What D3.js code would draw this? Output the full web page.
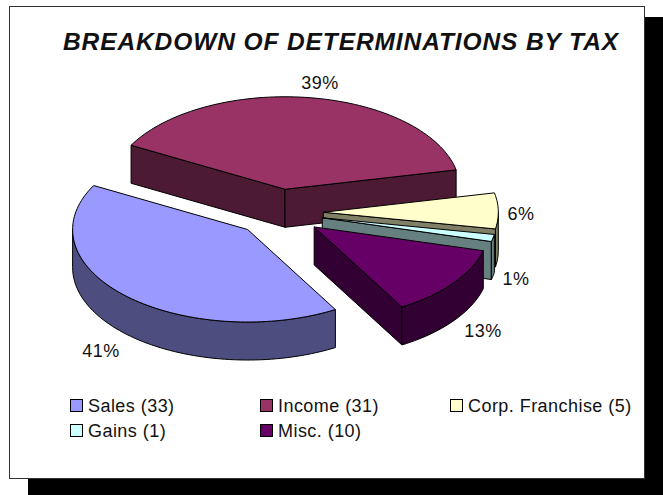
<!DOCTYPE html>
<html><head><meta charset="utf-8">
<script src="https://cdn.jsdelivr.net/npm/d3@7"></script>
<style>html,body{margin:0;padding:0;background:#fff}svg{display:block}text{font-family:"Liberation Sans",Arial,sans-serif;fill:#111}</style>
</head><body><svg id="c" width="663" height="495"></svg>
<script>
const categories=["Sales","Income","Corp. Franchise","Gains","Misc."];
const values=[33,31,5,1,10];
const percentLabels=["41%","39%","6%","1%","13%"];
const topColors=["#9999FF","#993366","#FFFFCC","#CCFFFF","#660066"];
const sideColors=["#4D4D80","#4D1A33","#808066","#668080","#330033"];
const titleText="BREAKDOWN OF DETERMINATIONS BY TAX";

const svg=d3.select("#c");
svg.append("rect").attr("x",28).attr("y",17).attr("width",635).attr("height",478).attr("fill","#000");
svg.append("rect").attr("x",9.5).attr("y",6.5).attr("width",635).attr("height",472).attr("fill","#fff").attr("stroke","#333");
svg.append("text").attr("x",341).attr("y",50).attr("text-anchor","middle").attr("font-size",24.5).attr("letter-spacing",.9).attr("font-weight","bold").attr("font-style","italic").text(titleText);

const cx=278.7,cy=212.6,rx=175,ry=92.5,depth=38,explode=0.255;
const xs=d3.scaleLinear().domain([-1,1]).range([-rx,rx]);
const ys=d3.scaleLinear().domain([-1,1]).range([-ry,ry]);
const pie=d3.pie().sort(null).startAngle(-210.1*Math.PI/180).endAngle(149.9*Math.PI/180);
const arcs=pie(values);
const line=d3.line();
const arcPts=(a0,a1,ox,oy,dy)=>{
  const n=Math.max(2,Math.ceil(Math.abs(a1-a0)/0.03));
  return d3.range(n+1).map(i=>{const a=a0+(a1-a0)*i/n;return [ox+xs(Math.sin(a)),oy-ys(Math.cos(a))+dy];});
};
const order=[1,2,3,4,0];
const g=svg.append("g").attr("stroke","#000").attr("stroke-width",1).attr("stroke-linejoin","round");
order.forEach(i=>{
  const d=arcs[i],mid=(d.startAngle+d.endAngle)/2;
  const ox=cx+explode*xs(Math.sin(mid)),oy=cy-explode*ys(Math.cos(mid));
  [d.startAngle,d.endAngle].forEach(a=>{
    const ex=Math.sin(a)*rx,ey=-Math.cos(a)*ry;
    const ix=Math.sin(mid)*rx,iy=-Math.cos(mid)*ry;
    let nx=-ey,ny=ex;
    if(nx*ix+ny*iy>0){nx=-nx;ny=-ny;}
    if(ny>0){
      const p=[ox+ex,oy+ey];
      g.append("path").attr("d",line([[ox,oy],p,[p[0],p[1]+depth],[ox,oy+depth]])+"Z").attr("fill",sideColors[i]);
    }
  });
  const lo=Math.PI/2,hi=3*Math.PI/2;
  [[d.startAngle,d.endAngle],[d.startAngle+2*Math.PI,d.endAngle+2*Math.PI]].forEach(([s,e])=>{
    const a0=Math.max(s,lo),a1=Math.min(e,hi);
    if(a1>a0){
      const pts=arcPts(a0,a1,ox,oy,0).concat(arcPts(a1,a0,ox,oy,depth));
      g.append("path").attr("d",line(pts)+"Z").attr("fill",sideColors[i]);
    }
  });
  g.append("path").attr("d",line([[ox,oy]].concat(arcPts(d.startAngle,d.endAngle,ox,oy,0)))+"Z").attr("fill",topColors[i]);
});

const labelX=[101,320,521,516,483],labelY=[357,89,220,285,337];
svg.append("g").selectAll("text").data(percentLabels).join("text")
  .attr("x",(d,i)=>labelX[i]).attr("y",(d,i)=>labelY[i]).attr("text-anchor","middle").attr("font-size",18).attr("letter-spacing",.5).text(d=>d);

const legendCol=[70,260,450],legendRow=[399,424];
const legend=svg.append("g");
categories.forEach((c,i)=>{
  const col=i<3?i:(i-3),row=i<3?0:1;
  const top=legendRow[row];
  legend.append("rect").attr("x",legendCol[col]+.5).attr("y",top+.5).attr("width",12).attr("height",12).attr("fill",topColors[i]).attr("stroke","#000");
  legend.append("text").attr("x",legendCol[col]+18).attr("y",top+13).attr("font-size",18).attr("letter-spacing",.45).text(`${c} (${values[i]})`);
});
</script></body></html>
